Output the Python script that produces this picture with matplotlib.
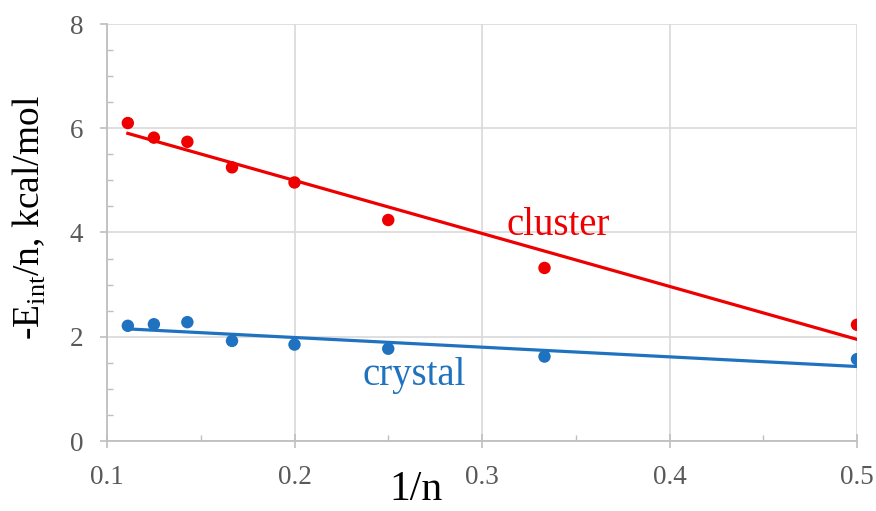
import numpy as np
import matplotlib.pyplot as plt
from matplotlib.ticker import MultipleLocator

# data (x = 1/n for n = 9..2)
n_values = [9, 8, 7, 6, 5, 4, 3, 2]
cluster_e = [6.10, 5.82, 5.74, 5.25, 4.96, 4.24, 3.32, 2.23]
crystal_e = [2.21, 2.24, 2.28, 1.92, 1.85, 1.77, 1.62, 1.57]

red = '#ee0000'
blue = '#1f72c0'
grey = '#595959'

plt.rcParams['font.family'] = ['Liberation Serif', 'DejaVu Serif']

x = 1.0 / np.array(n_values)

fig = plt.figure(figsize=(8.76, 5.11), dpi=100)
ax = fig.add_axes([107 / 876, 1 - 441 / 511, 750 / 876, 417 / 511])

for y, c in [(cluster_e, red), (crystal_e, blue)]:
    y = np.array(y)
    # linear trendline like the spreadsheet one
    k, b = np.polyfit(x, y, 1)
    xs = np.array([x.min(), x.max()])
    ax.plot(xs, k * xs + b, color=c, lw=2.3, zorder=2)
    ax.scatter(x, y, s=80, color=c, zorder=3, edgecolors='none')

ax.set_xlim(0.1, 0.5)
ax.set_ylim(0, 8)
ax.xaxis.set_major_locator(MultipleLocator(0.1))
ax.xaxis.set_minor_locator(MultipleLocator(0.05))
ax.yaxis.set_major_locator(MultipleLocator(2))
ax.yaxis.set_minor_locator(MultipleLocator(0.5))
ax.grid(True, which='major', color='#d9d9d9', lw=1.2, zorder=0)
ax.set_axisbelow(True)

for s in ['top', 'right']:
    ax.spines[s].set_visible(False)
for s in ['left', 'bottom']:
    ax.spines[s].set_color('#bfbfbf')
    ax.spines[s].set_linewidth(1.3)

ax.tick_params(which='major', direction='inout', length=10, width=1.2,
               color='#bfbfbf', labelcolor=grey, labelsize=19.5)
ax.tick_params(which='minor', direction='in', length=4, width=1.0, color='#bfbfbf')
ax.tick_params(axis='x', which='major', pad=12)
ax.tick_params(axis='y', which='major', direction='out', length=5, pad=12)

ax.xaxis.set_major_formatter(lambda v, p: f'{v:g}')

ax.set_xlabel('1/n', fontsize=30, va='baseline')
ax.xaxis.set_label_coords(0.412, -0.142)
ax.set_ylabel(r'-E$_{\mathregular{int}}$/n, kcal/mol', fontsize=27, va='center')
ax.yaxis.set_label_coords(-0.103, 0.535)

ax.text(0.313, 3.95, 'cluster', color=red, fontsize=28)
ax.text(0.236, 1.07, 'crystal', color=blue, fontsize=28)

fig.savefig('out.png', dpi=100)
